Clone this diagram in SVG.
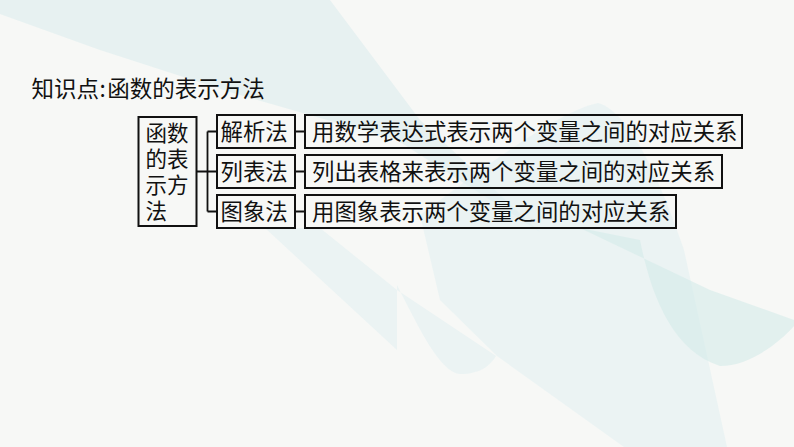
<svg xmlns="http://www.w3.org/2000/svg" width="794" height="447" viewBox="0 0 794 447">
<style>
.box{fill:none;stroke:#111;stroke-width:2}
.conn{fill:none;stroke:#111;stroke-width:1.8}
.t{font-family:"Noto Sans CJK SC","Noto Sans CJK JP",sans-serif;fill:#111}
.m{font-size:22.4px}
.rt{font-size:21.5px}
.bg1{fill:#dcedee;opacity:0.6}
.bg2{fill:#d3ebe9;opacity:0.6}
.bg3{fill:#e3f0f1;opacity:0.6}
</style>
<rect x="0" y="0" width="794" height="447" fill="#f7f8f6"/>
<g id="background">
<path class="bg1" d="M0,0 L330,0 C360,40 390,80 420,120 L540,232 L397,140 L233,93 L100,50 L0,14 Z"/>
<path class="bg3" d="M420,215 C480,170 560,110 598,103 C630,112 660,180 684,250 L727,447 L624,447 L497,356 L440,300 Z"/>
<path class="bg2" d="M580,228 L640,240 C650,290 670,350 720,366 C750,366 780,342 794,326 L794,320 L710,290 Z"/>
<path class="bg3" d="M397,285 C420,330 440,372 460,374 C480,374 490,366 496,356 L397,290 Z"/>
<path class="bg3" d="M265,228 L320,228 L397,290 L397,350 Z" opacity="0.4"/>
</g>
<text class="t" font-size="22.5" y="97"><tspan x="31.5">知识点</tspan><tspan x="99.5">:</tspan><tspan x="107.3">函数的表示方法</tspan></text>
<g id="connectors">
<path class="conn" d="M197,171.5 H207.5 M207.5,131.5 V211.5 M207.5,131.5 H217 M207.5,171.5 H217 M207.5,211.5 H217"/>
<path class="conn" d="M295,131.5 H305 M295,171.5 H305 M295,211.5 H305"/>
</g>
<g id="root">
<rect class="box" x="138.5" y="117" width="58" height="109"/>
<text class="t rt" x="145.5" y="141">函数</text>
<text class="t rt" x="145.5" y="167">的表</text>
<text class="t rt" x="145.5" y="193">示方</text>
<text class="t rt" x="145.5" y="219">法</text>
</g>
<g id="m1">
<rect class="box" x="217" y="115" width="78" height="33"/>
<text class="t m" x="220.5" y="140">解析法</text>
</g>
<g id="m2">
<rect class="box" x="217" y="155" width="78" height="33"/>
<text class="t m" x="220.5" y="180">列表法</text>
</g>
<g id="m3">
<rect class="box" x="217" y="195" width="78" height="33"/>
<text class="t m" x="220.5" y="220">图象法</text>
</g>
<g id="r1">
<rect class="box" x="305" y="115" width="437" height="33"/>
<text class="t m" x="312" y="140">用数学表达式表示两个变量之间的对应关系</text>
</g>
<g id="r2">
<rect class="box" x="305" y="155" width="417" height="33"/>
<text class="t m" x="312" y="180">列出表格来表示两个变量之间的对应关系</text>
</g>
<g id="r3">
<rect class="box" x="305" y="195" width="371" height="33"/>
<text class="t m" x="312" y="220">用图象表示两个变量之间的对应关系</text>
</g>
</svg>
